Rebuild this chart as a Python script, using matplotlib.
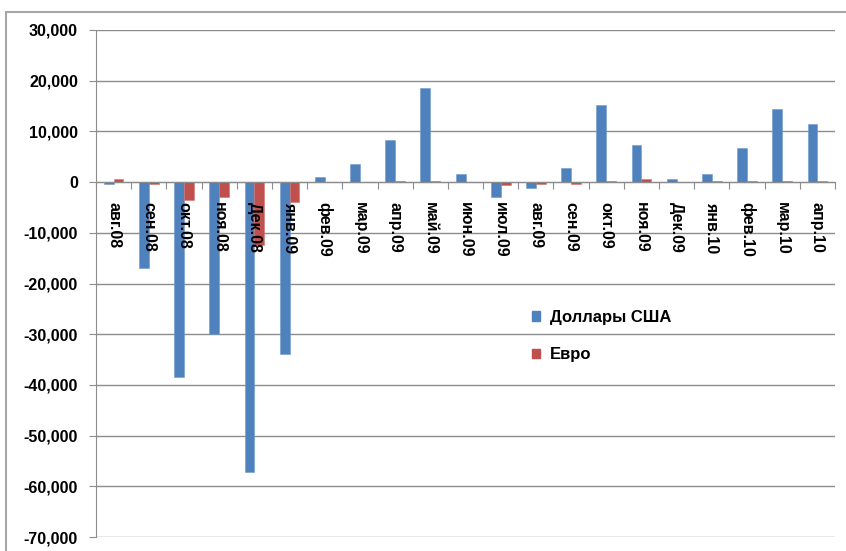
import matplotlib
matplotlib.use("Agg")
import matplotlib.pyplot as plt
from matplotlib.patches import Patch, Rectangle
from matplotlib.ticker import FuncFormatter

plt.rcParams['font.family'] = ['Liberation Sans', 'DejaVu Sans']

# Data
months = ["авг.08", "сен.08", "окт.08", "ноя.08", "Дек.08", "янв.09", "фев.09",
          "мар.09", "апр.09", "май.09", "июн.09", "июл.09", "авг.09", "сен.09",
          "окт.09", "ноя.09", "Дек.09", "янв.10", "фев.10", "мар.10", "апр.10"]
usd = [-400, -17000, -38500, -30000, -57200, -34000, 1000, 3500, 8300, 18500,
       1500, -3000, -1200, 2800, 15200, 7300, 700, 1500, 6700, 14500, 11400]
eur = [700, -300, -3500, -3000, -12500, -4000, 100, 0, 300, 300,
       0, -600, -400, -400, 300, 700, 0, 300, 300, 300, 300]

blue = "#4F81BD"
red = "#C0504D"
grid_col = "#8C8C8C"

n = len(months)
x = list(range(n))

fig = plt.figure(figsize=(8.46, 5.51), dpi=100)
ax = fig.add_axes([96 / 846, 1 - 537 / 551, (835 - 96) / 846, (537 - 30) / 551])

w = 0.28
ax.bar([i - w / 2 for i in x], usd, width=w, color=blue,
       edgecolor="#6F9AD0", linewidth=0.4, zorder=3)
ax.bar([i + w / 2 for i in x], eur, width=w, color=red,
       edgecolor="#D07572", linewidth=0.4, zorder=3)

ax.set_xlim(-0.5, n - 0.5)
ax.set_ylim(-70000, 30000)
ax.set_yticks(range(-70000, 30001, 10000))
ax.yaxis.set_major_formatter(FuncFormatter(lambda v, p: "{:,.0f}".format(v)))
ax.grid(axis="y", color=grid_col, linewidth=1.0, zorder=0)

for s in ["top", "right"]:
    ax.spines[s].set_visible(False)
ax.spines["left"].set_color(grid_col)
ax.spines["bottom"].set_position(("data", 0))
ax.spines["bottom"].set_color(grid_col)
ax.spines["bottom"].set_zorder(4)

# category boundaries as ticks on the zero line
ax.set_xticks([i - 0.5 for i in range(n + 1)])
ax.set_xticklabels([])
ax.tick_params(axis="x", direction="out", length=5, color=grid_col)

# month labels drawn above the bars, just under the zero line
for i, m in enumerate(months):
    ax.annotate(m, (i, 0), xytext=(0, -14.5), textcoords="offset points",
                rotation=-90, ha="center", va="top", fontsize=11.5,
                fontweight="bold", zorder=5)

ax.tick_params(axis="y", direction="out", length=5, color=grid_col,
               labelsize=11.5, pad=8)
for t in ax.get_yticklabels():
    t.set_fontweight("bold")

handles = [Patch(facecolor=blue, edgecolor=blue), Patch(facecolor=red, edgecolor=red)]
ax.legend(handles, ["Доллары США", "Евро"], loc="upper left",
          bbox_to_anchor=((517 - 96) / 739, 1 - (295 - 30) / 507),
          frameon=False, handlelength=0.5, handleheight=0.5,
          handletextpad=0.6, labelspacing=1.35,
          prop={"weight": "bold", "size": 12})

# outer chart border
fig.add_artist(Rectangle((6 / 846, -0.1), 1.2, 1 - 12 / 551 + 0.1,
                         transform=fig.transFigure, fill=False,
                         edgecolor="#A6A6A6", linewidth=1.5))

fig.savefig("out.png", dpi=100)
